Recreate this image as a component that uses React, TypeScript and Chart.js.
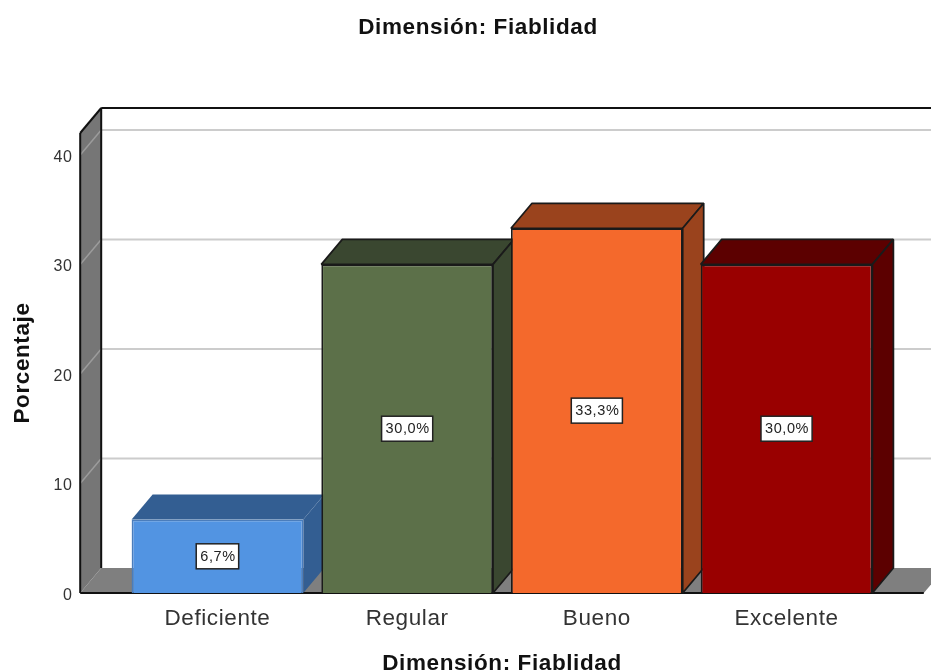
import React, { useEffect, useRef } from "react";
import { Chart, registerables } from "chart.js";

Chart.register(...registerables);

const TITLE = "Dimensión: Fiablidad";
const Y_TITLE = "Porcentaje";
const categories = ["Deficiente", "Regular", "Bueno", "Excelente"];
const percentages = [6.7, 30.0, 33.3, 30.0];
const valueLabels = ["6,7%", "30,0%", "33,3%", "30,0%"];
const frontColors = ["#5294E2", "#5C7049", "#F4692C", "#990000"];
const shadeColors = ["#335E92", "#3A4730", "#9A431D", "#5C0000"];
const edgeColors = ["#4A7DBC", "#1A1A1A", "#1A1A1A", "#1A1A1A"];
const FONT = "'Liberation Sans', Arial, sans-serif";
const DEPTH_X = 21;
const DEPTH_Y = 25;

const poly = (ctx: CanvasRenderingContext2D, pts: number[][], fill: string | null, stroke: string | null, lw = 1.75) => {
  ctx.beginPath();
  pts.forEach((p, i) => (i ? ctx.lineTo(p[0], p[1]) : ctx.moveTo(p[0], p[1])));
  ctx.closePath();
  if (fill) { ctx.fillStyle = fill; ctx.fill(); }
  if (stroke) { ctx.strokeStyle = stroke; ctx.lineWidth = lw; ctx.lineJoin = "bevel"; ctx.stroke(); }
};

const seg = (ctx: CanvasRenderingContext2D, x1: number, y1: number, x2: number, y2: number, color: string, lw: number) => {
  ctx.beginPath();
  ctx.moveTo(x1, y1);
  ctx.lineTo(x2, y2);
  ctx.strokeStyle = color;
  ctx.lineWidth = lw;
  ctx.stroke();
};

const box3d = {
  id: "box3d",
  afterLayout(chart: any) {
    if (chart.titleBlock) {
      chart.titleBlock.left = 25;
      chart.titleBlock.right = chart.width;
    }
  },
  beforeDraw(chart: any) {
    chart.ctx.letterSpacing = "0.6px";
  },
  beforeDatasetsDraw(chart: any) {
    const { ctx, scales } = chart;
    const y = scales.y;
    const x = scales.x;
    const step = x.getPixelForValue(1) - x.getPixelForValue(0);
    const left = x.left - step * 0.2235;
    const right = x.right + step * 0.2235;
    const bottom = y.getPixelForValue(0);
    const top = y.top;
    ctx.save();
    // floor
    poly(ctx, [[left, bottom], [right, bottom], [right + DEPTH_X, bottom - DEPTH_Y], [left + DEPTH_X, bottom - DEPTH_Y]], "#7F7F7F", null);
    // side wall
    poly(ctx, [[left, bottom], [left, top], [left + DEPTH_X, top - DEPTH_Y], [left + DEPTH_X, bottom - DEPTH_Y]], "#767676", null);
    // grid lines
    [10, 20, 30, 40].forEach((v) => {
      const py = y.getPixelForValue(v);
      seg(ctx, left, py, left + DEPTH_X, py - DEPTH_Y, "#9C9C9C", 1.5);
      seg(ctx, left + DEPTH_X, py - DEPTH_Y, chart.width, py - DEPTH_Y, "#CCCCCC", 2);
    });
    // outline
    seg(ctx, left, top, left, bottom, "#111", 2);
    seg(ctx, left, top, left + DEPTH_X, top - DEPTH_Y, "#111", 2);
    seg(ctx, left + DEPTH_X, top - DEPTH_Y, left + DEPTH_X, bottom - DEPTH_Y, "#111", 2);
    seg(ctx, left + DEPTH_X, top - DEPTH_Y, chart.width, top - DEPTH_Y, "#111", 2);
    seg(ctx, left, bottom, right, bottom, "#111", 2);
    // bar sides and tops
    const meta = chart.getDatasetMeta(0);
    meta.data.forEach((el: any, i: number) => {
      const { x: cx, y: ty, base, width } = el.getProps(["x", "y", "base", "width"], true);
      const l = cx - width / 2;
      const r = cx + width / 2;
      const edge = edgeColors[i];
      poly(ctx, [[l, ty], [r, ty], [r + DEPTH_X, ty - DEPTH_Y], [l + DEPTH_X, ty - DEPTH_Y]], shadeColors[i], i === 0 ? null : edge);
      poly(ctx, [[r, ty], [r, base], [r + DEPTH_X, base - DEPTH_Y], [r + DEPTH_X, ty - DEPTH_Y]], shadeColors[i], i === 0 ? null : edge);
    });
    ctx.restore();
  },
  afterDatasetsDraw(chart: any) {
    const { ctx } = chart;
    const meta = chart.getDatasetMeta(0);
    ctx.save();
    ctx.font = `14.5px ${FONT}`;
    ctx.textAlign = "center";
    ctx.textBaseline = "middle";
    meta.data.forEach((el: any, i: number) => {
      const { x: cx, y: ty, base } = el.getProps(["x", "y", "base"], true);
      const my = (ty + base) / 2;
      const w = ctx.measureText(valueLabels[i]).width + 7;
      const h = 25;
      ctx.fillStyle = "#FFFFFF";
      ctx.fillRect(cx - w / 2, my - h / 2, w, h);
      ctx.strokeStyle = "#222";
      ctx.lineWidth = 1.5;
      ctx.strokeRect(cx - w / 2, my - h / 2, w, h);
      ctx.fillStyle = "#222";
      ctx.fillText(valueLabels[i], cx + 0.5, my + 0.5);
    });
    ctx.restore();
  },
};

export default function App() {
  const ref = useRef<HTMLCanvasElement>(null);
  useEffect(() => {
    const chart = new Chart(ref.current!, {
      type: "bar",
      plugins: [box3d],
      data: {
        labels: categories,
        datasets: [
          {
            data: percentages,
            backgroundColor: frontColors,
            borderColor: edgeColors,
            borderWidth: 1.75,
            categoryPercentage: 1,
            barPercentage: 0.905,
          },
        ],
      },
      options: {
        responsive: false,
        animation: false,
        layout: { autoPadding: false, padding: { right: 49.6, left: 0, top: 0, bottom: 0 } },
        plugins: {
          legend: { display: false },
          tooltip: { enabled: false },
          title: {
            display: true,
            text: TITLE,
            color: "#111",
            font: { family: FONT, size: 22.5, weight: "bold" },
            padding: { top: 14, bottom: 92 },
          },
        },
        scales: {
          x: {
            grid: { display: false },
            border: { display: false },
            ticks: { color: "#333", font: { family: FONT, size: 22.5 }, padding: 4, maxRotation: 0 },
            title: {
              display: true,
              text: TITLE,
              color: "#111",
              font: { family: FONT, size: 22.5, weight: "bold" },
              padding: { top: 10, bottom: -5 },
            },
            afterFit: (s: any) => { s.height = 79; },
          },
          y: {
            min: 0,
            max: 42,
            grid: { display: false },
            border: { display: false },
            ticks: {
              stepSize: 10,
              includeBounds: false,
              color: "#333",
              font: { family: FONT, size: 16, lineHeight: "5px" },
              padding: 42,
              callback: (v: any) => ["", String(v)],
            },
            title: {
              display: true,
              text: Y_TITLE,
              color: "#111",
              font: { family: FONT, size: 22.5, weight: "bold" },
              padding: { top: 9, bottom: 0 },
            },
            afterFit: (s: any) => { s.width = 122.6; },
          },
        },
      },
    } as any);
    return () => chart.destroy();
  }, []);
  return (
    <div style={{ position: "absolute", left: 0, top: 0, width: 931, height: 672, background: "#fff" }}>
      <canvas ref={ref} width={931} height={672} style={{ display: "block" }} />
    </div>
  );
}
